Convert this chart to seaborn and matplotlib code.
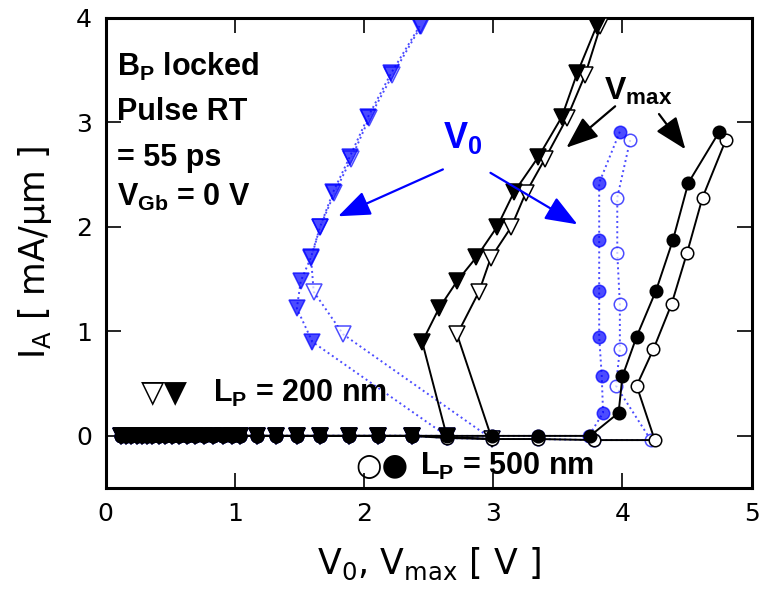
import numpy as np
import pandas as pd
import matplotlib
matplotlib.use("Agg")
import seaborn as sns
import matplotlib.pyplot as plt

# off-state sweep, shared by all curves (V0 = Vmax, I_A ~ 0)
v_off = [0.12, 0.16, 0.20, 0.24, 0.28, 0.32, 0.36, 0.41, 0.46, 0.51, 0.57, 0.63, 0.69,
         0.76, 0.83, 0.91, 0.98, 1.04, 1.17, 1.32, 1.48, 1.66, 1.88, 2.11, 2.37]
i_off = [0.0, 0.0, 0.0, 0.0, 0.0, 0.0, 0.0, 0.0, 0.0, 0.0, 0.0, 0.0, 0.0,
         0.0, 0.0, 0.0, 0.0, 0.0, 0.0, 0.0, 0.0, 0.0, 0.0, 0.0, 0.0]

# LP = 200 nm, filled triangles
tri_f_vmax = [2.64, 2.45, 2.58, 2.72, 2.87, 3.03, 3.16, 3.35, 3.53, 3.65, 3.80]
tri_f_v0 = [2.64, 1.60, 1.48, 1.51, 1.59, 1.66, 1.76, 1.89, 2.03, 2.21, 2.43]
tri_f_i = [0.0, 0.90, 1.22, 1.48, 1.71, 2.00, 2.33, 2.67, 3.05, 3.47, 3.92]

# LP = 200 nm, open triangles
tri_o_vmax = [2.64, 2.99, 2.72, 2.89, 2.98, 3.14, 3.25, 3.40, 3.57, 3.71, 3.83]
tri_o_v0 = [2.64, 2.99, 1.84, 1.61, 1.59, 1.66, 1.77, 1.90, 2.04, 2.22, 2.44]
tri_o_i = [-0.01, -0.03, 0.97, 1.38, 1.70, 2.00, 2.32, 2.65, 3.04, 3.45, 3.92]

# LP = 500 nm, filled circles
cir_f_vmax = [2.64, 2.99, 3.35, 3.75, 3.97, 4.00, 4.11, 4.26, 4.39, 4.51, 4.75]
cir_f_v0 = [2.64, 2.99, 3.35, 3.74, 3.85, 3.84, 3.82, 3.82, 3.82, 3.82, 3.98]
cir_f_i = [0.0, 0.0, 0.0, 0.0, 0.22, 0.57, 0.95, 1.39, 1.87, 2.42, 2.91]

# LP = 500 nm, open circles
cir_o_vmax = [2.64, 2.99, 3.35, 3.78, 4.25, 4.11, 4.24, 4.38, 4.50, 4.62, 4.80]
cir_o_v0 = [2.64, 2.99, 3.35, 3.78, 4.22, 3.95, 3.98, 3.98, 3.96, 3.96, 4.06]
cir_o_i = [-0.02, -0.03, -0.03, -0.04, -0.04, 0.48, 0.83, 1.26, 1.75, 2.28, 2.83]

sns.set_style("ticks")
plt.rcParams['font.family'] = ['DejaVu Sans']
plt.rcParams.update({"text.color": "black", "axes.labelcolor": "black",
                     "xtick.color": "black", "ytick.color": "black"})

fig, ax = plt.subplots(figsize=(7.6, 5.91), dpi=100)
fig.subplots_adjust(left=0.139, right=0.989, top=0.970, bottom=0.174)

BLUE = "#0000ff"


def curve(vx, iy, marker, face, edge, ls, alpha, z, ms):
    sns.lineplot(x=v_off + vx, y=i_off + iy, sort=False, estimator=None, ax=ax,
                 color=edge, linestyle=ls, lw=1.4, marker=marker, markersize=ms,
                 markerfacecolor=face, markeredgecolor=edge, markeredgewidth=1.1,
                 alpha=alpha, zorder=z)


# V0 curves (blue, dotted) drawn underneath
curve(tri_o_v0, tri_o_i, "v", "white", BLUE, ":", 0.7, 2, 11)
curve(tri_f_v0, tri_f_i, "v", BLUE, BLUE, ":", 0.7, 2, 11)
curve(cir_o_v0, cir_o_i, "o", "white", BLUE, ":", 0.7, 2, 9)
curve(cir_f_v0, cir_f_i, "o", BLUE, BLUE, ":", 0.7, 2, 9)

# Vmax curves (black, solid)
curve(tri_o_vmax, tri_o_i, "v", "white", "black", "-", 1.0, 3, 11)
curve(tri_f_vmax, tri_f_i, "v", "black", "black", "-", 1.0, 3, 11)
curve(cir_o_vmax, cir_o_i, "o", "white", "black", "-", 1.0, 3, 9)
curve(cir_f_vmax, cir_f_i, "o", "black", "black", "-", 1.0, 3, 9)

ax.set_xlim(0, 5)
ax.set_ylim(-0.5, 4)
ax.set_xticks([0, 1, 2, 3, 4, 5])
ax.set_yticks([0, 1, 2, 3, 4])
ax.tick_params(direction="in", length=11, width=1.2, top=True, right=True,
               labelsize=18, pad=10, colors="black")
for sp in ax.spines.values():
    sp.set_linewidth(2.2)
    sp.set_color("black")

ax.set_xlabel(r"V$_\mathregular{0}$, V$_\mathregular{max}$ [ V ]", fontsize=25, labelpad=14)
ax.set_ylabel(r"I$_\mathregular{A}$ [ mA/$\mathregular{\mu}$m ]", fontsize=25, labelpad=16)

bold = dict(fontweight="bold", family="Liberation Sans", color="black")
sym = dict(fontweight="bold", family="DejaVu Sans", color="black")
ax.text(0.09, 3.53, r"B$_\mathregular{P}$ locked", fontsize=22, va="center", **bold)
ax.text(0.09, 3.10, "Pulse RT", fontsize=22, va="center", **bold)
ax.text(0.09, 2.66, "= 55 ps", fontsize=22, va="center", **bold)
ax.text(0.09, 2.28, r"V$_\mathregular{Gb}$ = 0 V", fontsize=22, va="center", **bold)

ax.text(0.27, 0.41, "▽▼", fontsize=22, va="center", **sym)
ax.text(0.83, 0.41, r"L$_\mathregular{P}$ = 200 nm", fontsize=22, va="center", **bold)
ax.text(1.93, -0.29, "○●", fontsize=22, va="center", **sym)
ax.text(2.43, -0.29, r"L$_\mathregular{P}$ = 500 nm", fontsize=22, va="center", **bold)

head = "-|>,head_length=0.9,head_width=0.35"
ax.text(2.76, 2.85, r"V$_\mathregular{0}$", fontsize=26, ha="center", va="center",
        fontweight="bold", family="Liberation Sans", color=BLUE)
ax.annotate("", xy=(1.78, 2.09), xytext=(2.63, 2.56),
            arrowprops=dict(arrowstyle=head, color=BLUE, lw=1.6, mutation_scale=22))
ax.annotate("", xy=(3.67, 2.01), xytext=(2.96, 2.53),
            arrowprops=dict(arrowstyle=head, color=BLUE, lw=1.6, mutation_scale=22))

ax.text(4.12, 3.30, r"V$_\mathregular{max}$", fontsize=23, ha="center", va="center", **bold)
ax.annotate("", xy=(3.55, 2.74), xytext=(3.96, 3.17),
            arrowprops=dict(arrowstyle=head, color="black", lw=1.6, mutation_scale=22))
ax.annotate("", xy=(4.50, 2.72), xytext=(4.27, 3.10),
            arrowprops=dict(arrowstyle=head, color="black", lw=1.6, mutation_scale=22))

fig.savefig("out.png", dpi=100)
